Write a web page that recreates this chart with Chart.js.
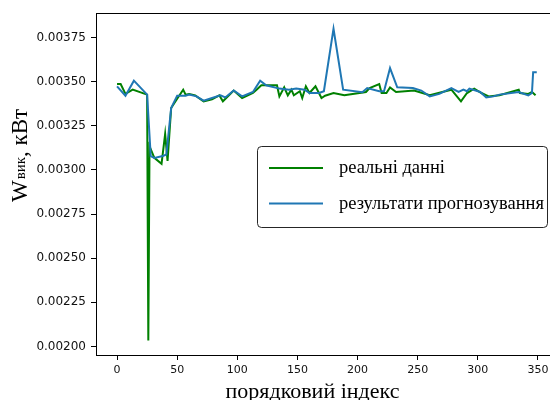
<!DOCTYPE html>
<html>
<head>
<meta charset="utf-8">
<script src="https://cdn.jsdelivr.net/npm/chart.js@4"></script>
<style>
html,body{margin:0;padding:0;overflow:hidden;background:#fff;}
#wrap{width:550px;height:400px;overflow:hidden;position:relative;}
canvas{display:block;}
</style>
</head>
<body>
<div id="wrap"><canvas id="c" width="560" height="400" style="width:560px;height:400px"></canvas></div>
<script>
// real data (index, value)
const realIdx = [0, 3, 7, 13, 25, 26, 27, 31, 37, 40, 42, 45, 50, 55, 57, 60, 65, 72, 79, 85, 88, 97, 104, 113, 116, 120, 133, 135, 139, 142, 145, 147, 152, 154, 157, 160, 165, 170, 173, 180, 189, 207, 210, 218, 220, 224, 227, 232, 247, 260, 278, 286, 291, 297, 303, 309, 318, 334, 335, 342, 345, 348];
const realVals = [0.003486, 0.003486, 0.003430, 0.003454, 0.003426, 0.002034, 0.003134, 0.003068, 0.003034, 0.003204, 0.003050, 0.003350, 0.003403, 0.003454, 0.003426, 0.003430, 0.003422, 0.003388, 0.003399, 0.003422, 0.003388, 0.003449, 0.003407, 0.003435, 0.003454, 0.003479, 0.003479, 0.003416, 0.003467, 0.003422, 0.003454, 0.003422, 0.003445, 0.003407, 0.003473, 0.003435, 0.003473, 0.003407, 0.003420, 0.003435, 0.003422, 0.003441, 0.003463, 0.003486, 0.003435, 0.003435, 0.003467, 0.003441, 0.003449, 0.003422, 0.003454, 0.003388, 0.003435, 0.003460, 0.003435, 0.003416, 0.003422, 0.003454, 0.003435, 0.003430, 0.003441, 0.003422];
// forecast results (index, value)
const predIdx = [0, 7, 14, 25, 28, 31, 38, 41, 45, 50, 57, 60, 66, 72, 79, 86, 90, 97, 104, 113, 119, 124, 135, 143, 149, 156, 160, 168, 172, 180, 188, 204, 208, 218, 222, 227, 233, 246, 253, 260, 268, 278, 284, 288, 291, 293, 302, 307, 313, 318, 334, 342, 345, 346, 349];
const predVals = [0.003473, 0.003420, 0.003505, 0.003426, 0.003078, 0.003068, 0.003078, 0.003087, 0.003350, 0.003420, 0.003420, 0.003426, 0.003416, 0.003392, 0.003407, 0.003422, 0.003410, 0.003449, 0.003416, 0.003441, 0.003505, 0.003479, 0.003460, 0.003454, 0.003460, 0.003454, 0.003435, 0.003435, 0.003445, 0.003799, 0.003454, 0.003439, 0.003463, 0.003445, 0.003445, 0.003576, 0.003467, 0.003463, 0.003449, 0.003416, 0.003430, 0.003463, 0.003441, 0.003454, 0.003445, 0.003460, 0.003441, 0.003410, 0.003416, 0.003426, 0.003441, 0.003422, 0.003435, 0.003553, 0.003553];
const xTicks = [0, 50, 100, 150, 200, 250, 300, 350];
const yTicks = [0.00200, 0.00225, 0.00250, 0.00275, 0.00300, 0.00325, 0.00350, 0.00375];
const seriesNames = ['реальні данні', 'результати прогнозування'];
const xTitle = 'порядковий індекс';
const yTitleMain = 'W', yTitleSub = 'вик', yTitleRest = ', кВт';

const GREEN = '#008000', BLUE = '#1f77b4';

const decor = {
  id: 'decor',
  afterDraw(chart) {
    const ctx = chart.ctx, a = chart.chartArea;
    ctx.save();
    // top/right spines
    ctx.strokeStyle = '#000'; ctx.lineWidth = 1;
    ctx.beginPath();
    ctx.moveTo(a.left, Math.round(a.top) + 0.5);
    ctx.lineTo(a.right, Math.round(a.top) + 0.5);
    ctx.lineTo(a.right, a.bottom);
    ctx.stroke();
    // legend box
    const bx = 257.5, by = 146.5, bw = 290, bh = 81, r = 4;
    ctx.fillStyle = 'rgba(255,255,255,0.85)';
    ctx.strokeStyle = 'rgba(0,0,0,0.85)';
    ctx.beginPath();
    ctx.moveTo(bx + r, by);
    ctx.lineTo(bx + bw - r, by); ctx.arcTo(bx + bw, by, bx + bw, by + r, r);
    ctx.lineTo(bx + bw, by + bh - r); ctx.arcTo(bx + bw, by + bh, bx + bw - r, by + bh, r);
    ctx.lineTo(bx + r, by + bh); ctx.arcTo(bx, by + bh, bx, by + bh - r, r);
    ctx.lineTo(bx, by + r); ctx.arcTo(bx, by, bx + r, by, r);
    ctx.closePath(); ctx.fill(); ctx.stroke();
    const items = [[GREEN, seriesNames[0], 168], [BLUE, seriesNames[1], 203.5]];
    ctx.lineWidth = 2.2;
    ctx.font = '18.5px "Liberation Serif"';
    ctx.textBaseline = 'alphabetic'; ctx.textAlign = 'left';
    items.forEach(([c, t, y]) => {
      ctx.strokeStyle = c;
      ctx.beginPath(); ctx.moveTo(269, y); ctx.lineTo(323, y); ctx.stroke();
      ctx.fillStyle = '#000';
      ctx.fillText(t, 339, y + 5);
    });
    // x title
    ctx.font = '22px "Liberation Serif"';
    ctx.textAlign = 'center';
    ctx.fillText(xTitle, 312.5, 397.5);
    // y title (rotated)
    ctx.translate(27, 202);
    ctx.rotate(-Math.PI / 2);
    ctx.textAlign = 'left';
    ctx.font = '23px "Liberation Serif"';
    let x = 0;
    ctx.fillText(yTitleMain, x, 0); x += ctx.measureText(yTitleMain).width + 1;
    ctx.font = '15px "Liberation Serif"';
    ctx.fillText(yTitleSub, x, -2); x += ctx.measureText(yTitleSub).width;
    ctx.font = '23px "Liberation Serif"';
    ctx.fillText(yTitleRest, x, 0);
    ctx.restore();
  }
};

new Chart(document.getElementById('c'), {
  type: 'line',
  data: {
    datasets: [
      { label: seriesNames[0], data: realIdx.map((v, i) => ({ x: v, y: realVals[i] })),
        borderColor: GREEN, borderWidth: 2, pointRadius: 0, tension: 0, fill: false, order: 1 },
      { label: seriesNames[1], data: predIdx.map((v, i) => ({ x: v, y: predVals[i] })),
        borderColor: BLUE, borderWidth: 2, pointRadius: 0, tension: 0, fill: false, order: 0 }
    ]
  },
  options: {
    responsive: false,
    animation: false,
    layout: { padding: { top: 13, right: 1, left: 0, bottom: 0 } },
    plugins: { legend: { display: false }, tooltip: { enabled: false } },
    scales: {
      x: {
        type: 'linear', min: -17.5, max: 367.5,
        afterBuildTicks: s => { s.ticks = xTicks.map(v => ({ value: v })); },
        afterFit: s => { s.height = 45; },
        ticks: { font: { family: 'DejaVu Sans', size: 11 }, color: '#111', padding: 4, maxRotation: 0, autoSkip: false,
                 callback: v => String(v) },
        grid: { drawOnChartArea: false, tickLength: 5, color: '#000' },
        border: { color: '#000', width: 1 }
      },
      y: {
        type: 'linear', min: 0.001952, max: 0.003888,
        afterBuildTicks: s => { s.ticks = yTicks.map(v => ({ value: v })); },
        afterFit: s => { s.width = 96; },
        ticks: { font: { family: 'DejaVu Sans', size: 12 }, color: '#111', padding: 5, autoSkip: false,
                 callback: v => Number(v).toFixed(5) },
        grid: { drawOnChartArea: false, tickLength: 5, color: '#000' },
        border: { color: '#000', width: 1 }
      }
    }
  },
  plugins: [decor]
});
</script>
</body>
</html>
